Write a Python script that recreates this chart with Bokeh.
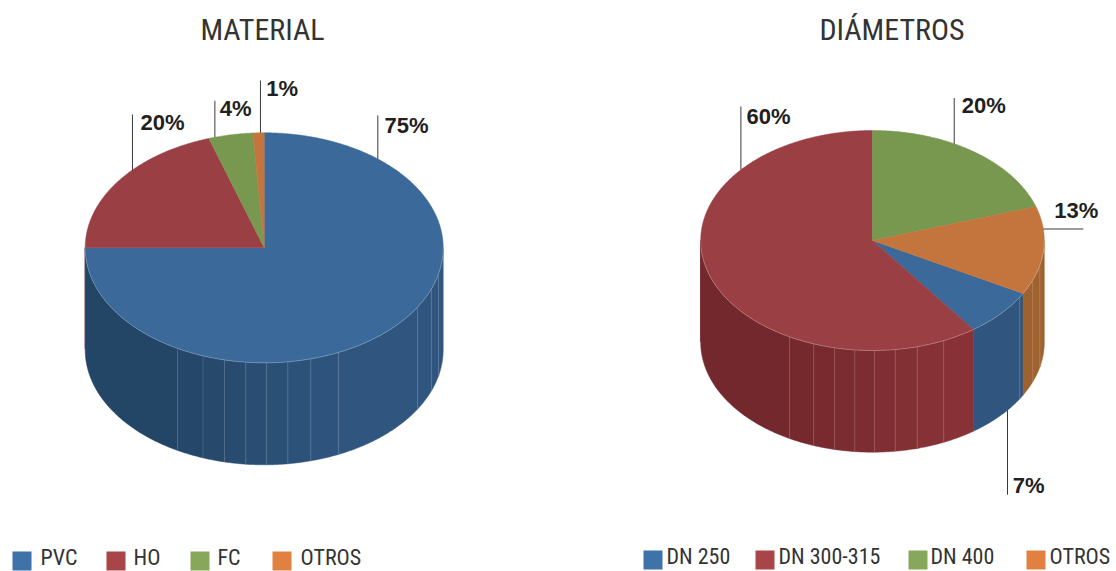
import math
from bokeh.plotting import figure
from bokeh.models import Range1d
from bokeh.core.properties import value
from bokeh.embed import file_html
from bokeh.resources import INLINE

# ---- data ----
material_title = "MATERIAL"
material_labels = ["PVC", "HO", "FC", "OTROS"]
material_values = [75, 20, 4, 1]

diametros_title = "DIÁMETROS"
diametros_labels = ["DN 250", "DN 300-315", "DN 400", "OTROS"]
diametros_values = [7, 60, 20, 13]

# ---- style ----
TOP = ["#3B6A9A", "#9A4045", "#789850", "#C4753E"]
SIDE_DARK = ["#234566", "#72282C", "#5C7A3C", "#9A5E2E"]
SIDE_LIGHT = ["#305680", "#883237", "#6A8A46", "#9E622F"]
LEGEND = ["#3F72A8", "#A84548", "#87A85A", "#E08142"]
TEXT = "#333333"
LABEL = "#231F20"
LABEL_FONT = "Liberation Sans"
THIN_FONT = "Roboto Condensed, Roboto"
BASE_SHIFT = 0.37  # baseline correction, in font sizes

# facet edges of the extruded wall, degrees from the front point
FACETS = [-28.9, -20, -12.8, -5.9, 0.7, 7.6, 15.1, 24.5, 59, 69, 77]

W, H = 1116, 571
p = figure(width=W, height=H, x_range=Range1d(0, W), y_range=Range1d(H, 0),
           output_backend="svg", toolbar_location=None, min_border=0,
           background_fill_color="white", border_fill_color="white", outline_line_color=None)
p.axis.visible = False
p.grid.visible = False


def mix(a, b, t):
    ca = [int(a[i:i + 2], 16) for i in (1, 3, 5)]
    cb = [int(b[i:i + 2], 16) for i in (1, 3, 5)]
    return "#%02x%02x%02x" % tuple(round(x + (y - x) * t) for x, y in zip(ca, cb))


def put_text(x, y, txt, font, size, color, align="left", style="normal"):
    p.text([x], [y - BASE_SHIFT * size], text=[txt], text_font=value(font), text_font_size=f"{size}px",
           text_font_style=style, text_color=color, text_align=align, text_baseline="alphabetic")


def pie3d(values, start, cx, cy, rx, ry, depth, leaders):
    def pt(t, drop=0.0):
        r = math.radians(t)
        return cx + rx * math.sin(r), cy - ry * math.cos(r) + drop

    def arc(a, b, drop=0.0):
        n = max(2, int(abs(b - a) / 0.5) + 1)
        pts = [pt(a + (b - a) * i / (n - 1), drop) for i in range(n)]
        return [q[0] for q in pts], [q[1] for q in pts]

    total = sum(values)
    spans = []
    a = start
    for i, v in enumerate(values):
        b = a + v / total * 360
        spans.append((i, a, b))
        a = b

    # front wall
    edges = sorted(180 - f for f in FACETS)
    for i, a, b in spans:
        for shift in (-360, 0, 360):
            lo, hi = max(a + shift, 90), min(b + shift, 270)
            if hi <= lo:
                continue
            cuts = [lo] + [e for e in edges if lo < e < hi] + [hi]
            for c0, c1 in zip(cuts[:-1], cuts[1:]):
                idx = sum(1 for f in FACETS if f <= 180 - (c0 + c1) / 2)
                col = mix(SIDE_DARK[i], SIDE_LIGHT[i], min(1.0, idx / 8))
                ux, uy = arc(c0, c1)
                lx, ly = arc(c1, c0, depth)
                p.patch(ux + lx, uy + ly, fill_color=col, line_color=col, line_width=0.5)
    # facet seams
    for e in edges:
        x0, y0 = pt(e)
        x1, y1 = pt(e, depth)
        p.line([x0, x1], [y0, y1], line_color="white", line_alpha=0.2, line_width=0.8)
    # silhouette edges
    for i, a, b in spans:
        for shift in (-360, 0, 360):
            if a + shift <= 270 < b + shift:
                x0, y0 = pt(270)
                x1, y1 = pt(270, depth * 0.995)
                p.line([x0, x1], [y0, y1], line_color=SIDE_DARK[i], line_width=1)

    # top face
    for i, a, b in spans:
        ax, ay = arc(a, b)
        p.patch([cx] + ax, [cy] + ay, fill_color=TOP[i], line_color=TOP[i], line_width=0.5)
    rx_, ry_ = arc(90, 270)
    p.line(rx_, ry_, line_color="white", line_alpha=0.3, line_width=0.8)

    # leaders and labels
    for (i, ang, wall, dx, dy, tx, ty) in leaders:
        x0, y0 = pt(ang, depth if wall else 0)
        p.line([x0, x0 + dx], [y0, y0 + dy], line_color="#3a3a3a", line_width=1)
        put_text(x0 + tx - 1, y0 + ty, f"{values[i]}%", LABEL_FONT, 22, LABEL, style="bold")


pie3d(material_values, 0, 263.7, 247.3, 179, 115, 102,
      [(0, 39.4, False, 0, -43.5, 7.7, -25),
       (1, 312.6, False, 0, -55.5, 9, -39),
       (2, 344, False, 0, -36.5, 6, -21),
       (3, 358.8, False, 0, -52.3, 6.7, -35.7)])
pie3d(diametros_values, 118.8, 872, 240, 171.8, 110, 101.7,
      [(1, 310, False, 0, -63.3, 6.7, -45),
       (2, 28.4, False, 0, -45.7, 8.6, -29.7),
       (3, 84, False, 40, 0, 12, -10.5),
       (0, 128.2, True, 0, 84.5, 6.3, 83)])

put_text(262, 40, material_title, THIN_FONT, 30, TEXT, align="center")
put_text(891.5, 40, diametros_title, THIN_FONT, 30, TEXT, align="center")


def legend(labels, sq_x, txt_x, y):
    for i, lab in enumerate(labels):
        p.quad(left=[sq_x[i]], right=[sq_x[i] + 19], top=[y], bottom=[y + 19],
               fill_color=LEGEND[i], line_color=None)
        put_text(txt_x[i] - 1, y + 14, lab, THIN_FONT, 22, TEXT)


legend(material_labels, [12, 106, 190, 272], [41, 134, 218, 301], 551)
legend(diametros_labels, [643, 755, 908, 1026], [667, 779, 931, 1050], 550)

open("out.html", "w").write(file_html(p, INLINE))
